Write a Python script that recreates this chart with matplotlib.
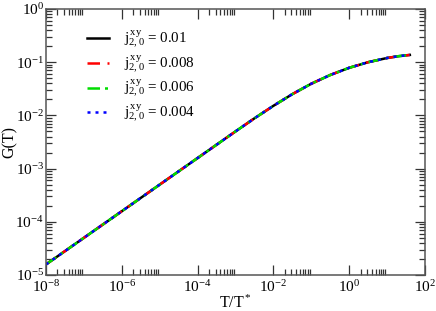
import matplotlib
matplotlib.use("Agg")
import matplotlib.pyplot as plt
from matplotlib.ticker import FixedLocator, NullFormatter, FixedFormatter

plt.rcParams['font.family'] = ['Liberation Serif', 'DejaVu Serif']
plt.rcParams['mathtext.fontset'] = 'custom'
plt.rcParams['mathtext.rm'] = 'Liberation Serif'
plt.rcParams['mathtext.it'] = 'Liberation Serif:italic'

# Data
T = [1e-8, 1e-7, 1e-6, 1e-5, 1e-4, 1e-3, 10**-2.5, 1e-2, 10**-1.5, 1e-1,
     10**-0.5, 1.0, 10**0.5, 10.0, 10**1.3, 10**1.6]
G = [1.58e-5, 5.0e-5, 1.58e-4, 5.0e-4, 1.58e-3, 5.0e-3, 8.81e-3, 1.514e-2,
     2.51e-2, 3.94e-2, 5.75e-2, 7.85e-2, 1.00e-1, 1.20e-1, 1.297e-1, 1.37e-1]

labels = ['0.01', '0.008', '0.006', '0.004']
colors = ['black', 'red', '#00dd00', 'blue']
styles = ['-', (0, (5, 3)), (0, (5, 2, 1.2, 2)), (0, (1.2, 2))]

xticks = [1e-8, 1e-6, 1e-4, 1e-2, 1e0, 1e2]
xticklabels = [r'$\mathregular{10^{-8}}$', r'$\mathregular{10^{-6}}$', r'$\mathregular{10^{-4}}$',
               r'$\mathregular{10^{-2}}$', r'$\mathregular{10^{0}}$', r'$\mathregular{10^{2}}$']
yticks = [1e-5, 1e-4, 1e-3, 1e-2, 1e-1, 1e0]
yticklabels = [r'$\mathregular{10^{-5}}$', r'$\mathregular{10^{-4}}$', r'$\mathregular{10^{-3}}$',
               r'$\mathregular{10^{-2}}$', r'$\mathregular{10^{-1}}$', r'$\mathregular{10^{0}}$']

fig = plt.figure(figsize=(4.36, 3.11), dpi=100)
ax = fig.add_axes([46/436, 36/311, 379/436, 266/311])

for lab, c, ls in zip(labels, colors, styles):
    ax.plot(T, G, color=c, linestyle=ls, linewidth=1.8,
            label=r'$\mathregular{j^{\,xy}_{2,0}}$' + ' = ' + lab)

ax.set_xscale('log')
ax.set_yscale('log')
ax.set_xlim(1e-8, 1e2)
ax.set_ylim(1e-5, 1e0)

ax.xaxis.set_major_locator(FixedLocator(xticks))
ax.xaxis.set_major_formatter(FixedFormatter(xticklabels))
xminor = [k * 10.0**e for e in range(-8, 2, 2) for k in range(2, 10)]
ax.xaxis.set_minor_locator(FixedLocator(xminor))
ax.xaxis.set_minor_formatter(NullFormatter())

ax.yaxis.set_major_locator(FixedLocator(yticks))
ax.yaxis.set_major_formatter(FixedFormatter(yticklabels))
yminor = [k * 10.0**e for e in range(-5, 0) for k in range(2, 10)]
ax.yaxis.set_minor_locator(FixedLocator(yminor))
ax.yaxis.set_minor_formatter(NullFormatter())

ax.tick_params(which='both', direction='in', top=True, right=True, labelsize=11,
               width=0.9, color='#333333')
ax.tick_params(axis='x', pad=3)
ax.tick_params(axis='y', pad=1.5)
ax.tick_params(which='major', length=7)
ax.tick_params(which='minor', length=4)
for s in ax.spines.values():
    s.set_linewidth(1.1)
    s.set_color('#555555')

ax.set_xlabel(r'T/T$\mathregular{^*}$', fontsize=11.5, labelpad=0)
ax.set_ylabel('G(T)', fontsize=11.5)
ax.yaxis.set_label_coords(-0.075, 0.5)

leg = ax.legend(loc='upper left', bbox_to_anchor=(0.08, 0.965), frameon=False,
                fontsize=10.8, handlelength=1.5, labelspacing=0.17, handletextpad=1.0,
                borderpad=0.2)

fig.savefig('out.png', dpi=100)
